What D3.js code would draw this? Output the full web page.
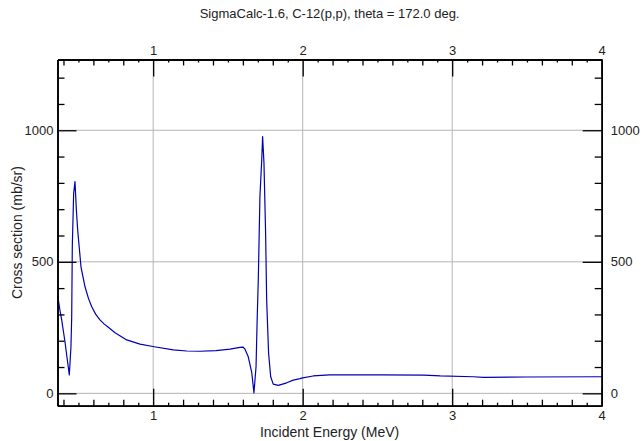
<!DOCTYPE html>
<html>
<head>
<meta charset="utf-8">
<script src="https://cdn.jsdelivr.net/npm/d3@7"></script>
<style>
  body { margin: 0; background: #fff; }
  svg { display: block; font-family: "Liberation Sans", Arial, sans-serif; }
  .axis path { stroke: #000; stroke-width: 1.6; }
  .axis line { stroke: #000; stroke-width: 1.3; }
  .axis text { font-size: 13px; fill: #222; }
</style>
</head>
<body>
<div id="chart"></div>
<script>
// incident energy (MeV) and cross section (mb/sr)
var energy = [0.362, 0.375, 0.388, 0.41, 0.423, 0.439, 0.45, 0.455, 0.459, 0.468, 0.477, 0.486,
  0.495, 0.517, 0.544, 0.567, 0.589, 0.615, 0.644, 0.673, 0.70, 0.745, 0.823, 0.912, 1.007,
  1.135, 1.224, 1.313, 1.42, 1.514, 1.58, 1.60, 1.614, 1.636, 1.659, 1.674, 1.688, 1.696,
  1.703, 1.714, 1.726, 1.732, 1.741, 1.752, 1.759, 1.772, 1.786, 1.803, 1.837, 1.893, 1.937,
  1.982, 2.0, 2.07, 2.18, 2.52, 2.81, 2.92, 3.14, 3.21, 3.5, 4.0];
var crossSection = [370, 320, 279, 196, 139, 70, 177, 290, 557, 760, 805, 700,
  621, 481, 405, 361, 329, 301, 279, 263, 251, 230, 203, 187, 177,
  165, 161, 160, 162, 168, 175, 176, 168, 139, 80, 2, 101, 291,
  431, 748, 887, 976, 875, 608, 355, 152, 63, 35, 30, 40, 50,
  56, 59, 66, 70, 70, 69, 66, 63, 61, 62, 63];

var xMajor = [1, 2, 3, 4];
var xMid = [0.4, 0.6, 0.8, 1.2, 1.4, 1.6, 1.8, 2.2, 2.4, 2.6, 2.8, 3.2, 3.4, 3.6, 3.8];
var xMinor = [0.5, 0.7, 0.9, 1.1, 1.3, 1.5, 1.7, 1.9, 2.1, 2.3, 2.5, 2.7, 2.9, 3.1, 3.3, 3.5, 3.7, 3.9];
var yMajor = [0, 500, 1000];
var yMinor = [100, 200, 300, 400, 600, 700, 800, 900, 1100, 1200];

var width = 644, height = 441;
var mLeft = 57.5, mRight = 601.7, mTop = 59.5, mBottom = 405.7;

var svg = d3.select("#chart").append("svg")
    .attr("width", width)
    .attr("height", height);

var x = d3.scaleLinear().domain([0.36, 4]).range([mLeft, mRight]);
var y = d3.scaleLinear().domain([-47, 1269]).range([mBottom, mTop]);

// grid
svg.append("g").selectAll("line")
    .data(xMajor.slice(0, 3))
    .enter().append("line")
        .attr("x1", function(d) { return x(d); })
        .attr("x2", function(d) { return x(d); })
        .attr("y1", mTop)
        .attr("y2", mBottom)
        .attr("stroke", "#b4b4b4");
svg.append("g").selectAll("line")
    .data(yMajor)
    .enter().append("line")
        .attr("x1", mLeft)
        .attr("x2", mRight)
        .attr("y1", function(d) { return y(d); })
        .attr("y2", function(d) { return y(d); })
        .attr("stroke", "#b4b4b4");

// curve
var points = energy.map(function(e, i) { return [e, crossSection[i]]; });
svg.append("path")
    .datum(points)
    .attr("fill", "none")
    .attr("stroke", "#0000b4")
    .attr("stroke-width", 1.2)
    .attr("stroke-linejoin", "round")
    .attr("d", d3.line()
        .x(function(d) { return x(d[0]); })
        .y(function(d) { return y(d[1]); }));

// axes, ticks pointing inward
function noLabels(axis) { return axis.tickFormat(""); }
var fmt = d3.format("d");

var xb = svg.append("g").attr("class", "axis").attr("transform", "translate(0," + mBottom + ")");
xb.call(d3.axisBottom(x).tickValues(xMajor).tickSizeInner(-17).tickSizeOuter(0).tickPadding(5).tickFormat(fmt));
xb.append("g").call(noLabels(d3.axisBottom(x).tickValues(xMid).tickSizeInner(-6).tickSizeOuter(0)));
xb.append("g").call(noLabels(d3.axisBottom(x).tickValues(xMinor).tickSizeInner(-3).tickSizeOuter(0)));

var xt = svg.append("g").attr("class", "axis").attr("transform", "translate(0," + mTop + ")");
xt.call(d3.axisTop(x).tickValues(xMajor).tickSizeInner(-17).tickSizeOuter(0).tickPadding(5).tickFormat(fmt));
xt.append("g").call(noLabels(d3.axisTop(x).tickValues(xMid).tickSizeInner(-6).tickSizeOuter(0)));
xt.append("g").call(noLabels(d3.axisTop(x).tickValues(xMinor).tickSizeInner(-3).tickSizeOuter(0)));

var yl = svg.append("g").attr("class", "axis").attr("transform", "translate(" + mLeft + ",0)");
yl.call(d3.axisLeft(y).tickValues(yMajor).tickSizeInner(-19).tickSizeOuter(0).tickPadding(4).tickFormat(fmt));
yl.append("g").call(noLabels(d3.axisLeft(y).tickValues(yMinor).tickSizeInner(-7).tickSizeOuter(0)));

var yr = svg.append("g").attr("class", "axis").attr("transform", "translate(" + mRight + ",0)");
yr.call(d3.axisRight(y).tickValues(yMajor).tickSizeInner(-19).tickSizeOuter(0).tickPadding(9).tickFormat(fmt));
yr.append("g").call(noLabels(d3.axisRight(y).tickValues(yMinor).tickSizeInner(-7).tickSizeOuter(0)));

// titles
svg.append("text")
    .attr("x", (mLeft + mRight) / 2)
    .attr("y", 18)
    .attr("text-anchor", "middle")
    .attr("font-size", 13)
    .attr("fill", "#222")
    .text("SigmaCalc-1.6, C-12(p,p), theta = 172.0 deg.");

svg.append("text")
    .attr("x", (mLeft + mRight) / 2)
    .attr("y", 437)
    .attr("text-anchor", "middle")
    .attr("font-size", 14)
    .attr("fill", "#222")
    .text("Incident Energy (MeV)");

svg.append("text")
    .attr("transform", "translate(22," + (mTop + mBottom) / 2 + ") rotate(-90)")
    .attr("text-anchor", "middle")
    .attr("font-size", 14)
    .attr("fill", "#222")
    .text("Cross section (mb/sr)");
</script>
</body>
</html>
